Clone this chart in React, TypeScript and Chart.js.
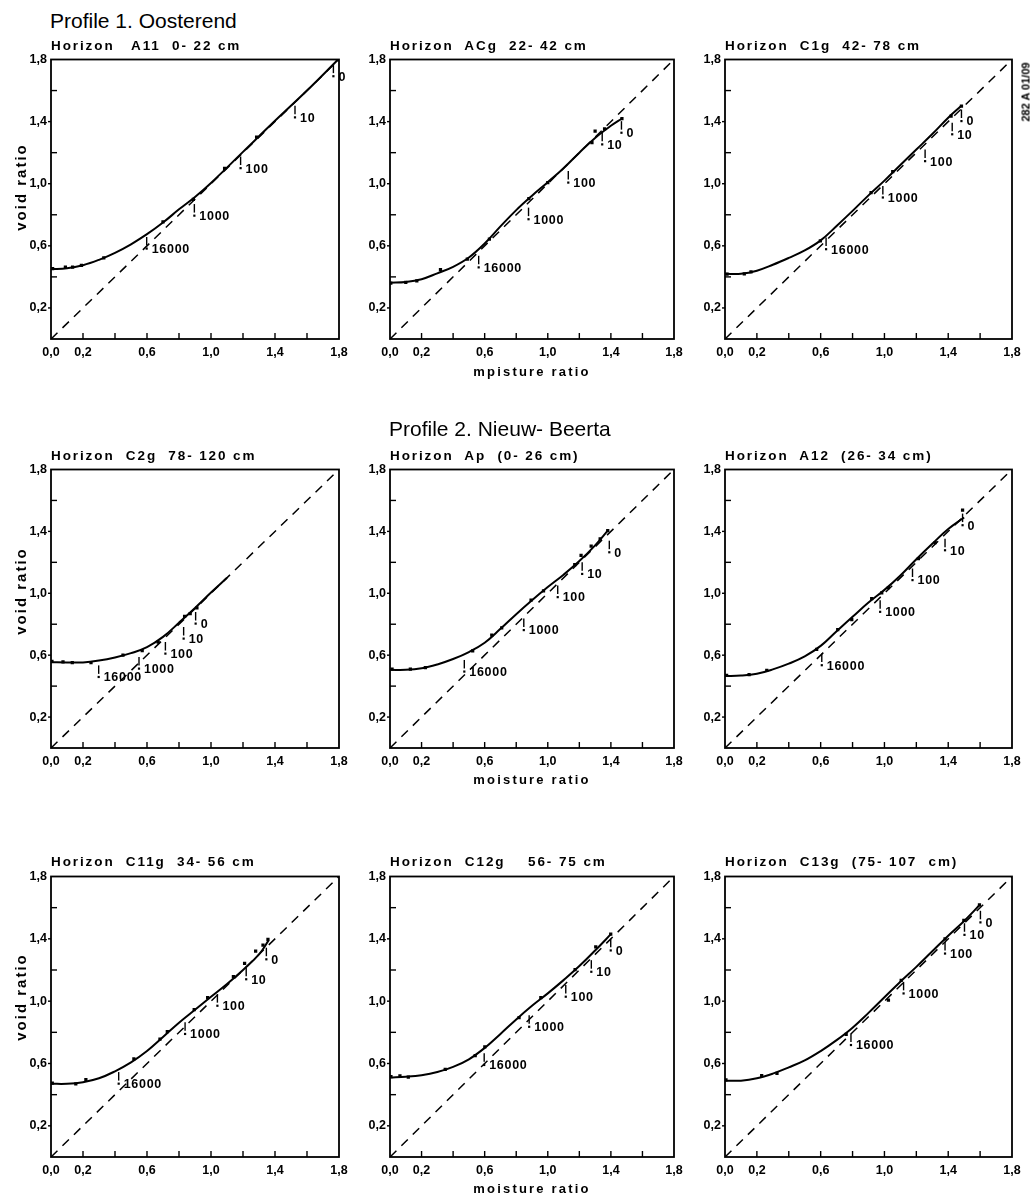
import React, { useEffect, useRef } from 'react';
import { Chart, registerables } from 'chart.js';

Chart.register(...registerables);

// ---------- data ----------
const AXIS_RANGE = [0, 1.8];
const TICK_VALUES = [0, 0.2, 0.4, 0.6, 0.8, 1.0, 1.2, 1.4, 1.6, 1.8];
const X_LABEL_VALUES = [0, 0.2, 0.6, 1.0, 1.4, 1.8];
const X_LABELS = ['0,0', '0,2', '0,6', '1,0', '1,4', '1,8'];
const Y_LABEL_VALUES = [0.2, 0.6, 1.0, 1.4, 1.8];
const Y_LABELS = ['0,2', '0,6', '1,0', '1,4', '1,8'];
const SUCTION_LABELS = ['16000', '1000', '100', '10', '0'];
const SATURATION_LINE = [[0, 0], [1.8, 1.8]];

// Profile 1. Oosterend
const a11Curve = [[0, 0.45], [0.1, 0.455], [0.2, 0.475], [0.3, 0.51], [0.4, 0.555], [0.5, 0.61], [0.6, 0.675], [0.7, 0.75], [0.8, 0.835], [0.9, 0.915], [1.0, 1.005], [1.2, 1.205], [1.4, 1.405], [1.6, 1.6], [1.79, 1.795]];
const a11Points = [[0.01, 0.453], [0.09, 0.463], [0.135, 0.463], [0.19, 0.474], [0.33, 0.522], [0.7, 0.754], [0.89, 0.899], [1.085, 1.099], [1.285, 1.3], [1.79, 1.8]];
const a11Marks = [[0.598, 0.657], [0.896, 0.869], [1.185, 1.175], [1.525, 1.502], [1.765, 1.767]];

const acgCurve = [[0, 0.362], [0.1, 0.367], [0.2, 0.385], [0.3, 0.423], [0.4, 0.465], [0.5, 0.525], [0.6, 0.615], [0.7, 0.725], [0.8, 0.83], [0.9, 0.923], [1.0, 1.01], [1.1, 1.1], [1.2, 1.2], [1.3, 1.295], [1.4, 1.373], [1.47, 1.42]];
const acgPoints = [[0.005, 0.36], [0.1, 0.364], [0.17, 0.375], [0.32, 0.446], [0.49, 0.514], [0.63, 0.643], [0.88, 0.904], [1.0, 1.007], [1.28, 1.264], [1.3, 1.339], [1.36, 1.354], [1.47, 1.42]];
const acgMarks = [[0.562, 0.536], [0.878, 0.846], [1.13, 1.082], [1.345, 1.328], [1.467, 1.403]];

const c1gCurve = [[0, 0.42], [0.1, 0.42], [0.2, 0.44], [0.3, 0.478], [0.4, 0.522], [0.5, 0.57], [0.6, 0.635], [0.7, 0.728], [0.8, 0.825], [0.9, 0.925], [1.0, 1.02], [1.1, 1.12], [1.2, 1.22], [1.3, 1.32], [1.4, 1.425], [1.48, 1.5]];
const c1gPoints = [[0.013, 0.418], [0.121, 0.42], [0.163, 0.433], [0.598, 0.632], [0.916, 0.943], [1.052, 1.078], [1.418, 1.436], [1.483, 1.5]];
const c1gMarks = [[0.634, 0.653], [0.99, 0.986], [1.255, 1.22], [1.425, 1.393], [1.483, 1.478]];

const c2gCurve = [[0, 0.555], [0.1, 0.553], [0.2, 0.553], [0.3, 0.565], [0.4, 0.585], [0.5, 0.613], [0.6, 0.652], [0.7, 0.718], [0.8, 0.81], [0.9, 0.905], [1.0, 1.005], [1.1, 1.1]];
const c2gPoints = [[0.006, 0.56], [0.075, 0.556], [0.133, 0.552], [0.25, 0.552], [0.45, 0.6], [0.57, 0.63], [0.67, 0.685], [0.835, 0.851], [0.87, 0.868], [0.912, 0.905]];
const c2gMarks = [[0.298, 0.534], [0.55, 0.588], [0.715, 0.685], [0.829, 0.782], [0.904, 0.879]];

// Profile 2. Nieuw- Beerta
const apCurve = [[0, 0.505], [0.1, 0.505], [0.2, 0.515], [0.3, 0.54], [0.4, 0.575], [0.5, 0.62], [0.6, 0.68], [0.7, 0.77], [0.8, 0.865], [0.9, 0.955], [1.0, 1.04], [1.1, 1.12], [1.2, 1.208], [1.3, 1.31], [1.38, 1.405]];
const apPoints = [[0.013, 0.509], [0.129, 0.509], [0.224, 0.519], [0.524, 0.627], [0.645, 0.73], [0.708, 0.777], [0.894, 0.955], [0.973, 1.015], [1.171, 1.185], [1.211, 1.245], [1.275, 1.305], [1.332, 1.352], [1.38, 1.405]];
const apMarks = [[0.471, 0.569], [0.848, 0.837], [1.063, 1.05], [1.218, 1.2], [1.39, 1.34]];

const a12Curve = [[0, 0.465], [0.1, 0.468], [0.2, 0.48], [0.3, 0.508], [0.4, 0.545], [0.5, 0.592], [0.6, 0.66], [0.7, 0.755], [0.8, 0.848], [0.9, 0.94], [1.0, 1.022], [1.1, 1.115], [1.2, 1.22], [1.3, 1.32], [1.4, 1.415], [1.5, 1.49]];
const a12Points = [[0.01, 0.47], [0.151, 0.474], [0.262, 0.502], [0.575, 0.638], [0.707, 0.765], [0.795, 0.83], [0.92, 0.966], [0.983, 1.002], [1.025, 1.037], [1.213, 1.224], [1.318, 1.328], [1.49, 1.537]];
const a12Marks = [[0.607, 0.61], [0.973, 0.955], [1.176, 1.16], [1.38, 1.353], [1.49, 1.515]];

const c11gCurve = [[0, 0.47], [0.1, 0.47], [0.2, 0.48], [0.3, 0.505], [0.4, 0.55], [0.5, 0.607], [0.6, 0.68], [0.7, 0.77], [0.8, 0.862], [0.9, 0.945], [1.0, 1.028], [1.1, 1.11], [1.2, 1.2], [1.3, 1.3], [1.36, 1.39]];
const c11gPoints = [[0.008, 0.474], [0.155, 0.47], [0.218, 0.496], [0.518, 0.63], [0.681, 0.757], [0.727, 0.804], [0.895, 0.945], [0.979, 1.023], [1.14, 1.157], [1.21, 1.243], [1.279, 1.321], [1.325, 1.36], [1.356, 1.396]];
const c11gMarks = [[0.423, 0.545], [0.838, 0.864], [1.04, 1.045], [1.22, 1.215], [1.346, 1.343]];

const c12gCurve = [[0, 0.51], [0.1, 0.515], [0.2, 0.525], [0.3, 0.545], [0.4, 0.578], [0.5, 0.627], [0.6, 0.7], [0.7, 0.79], [0.8, 0.883], [0.9, 0.97], [1.0, 1.05], [1.1, 1.135], [1.2, 1.225], [1.3, 1.325], [1.4, 1.43]];
const c12gPoints = [[0.006, 0.515], [0.063, 0.521], [0.116, 0.513], [0.35, 0.562], [0.54, 0.65], [0.601, 0.707], [0.818, 0.895], [0.956, 1.023], [1.173, 1.203], [1.304, 1.348], [1.399, 1.43]];
const c12gMarks = [[0.597, 0.665], [0.882, 0.91], [1.114, 1.103], [1.276, 1.263], [1.399, 1.4]];

const c13gCurve = [[0, 0.49], [0.1, 0.49], [0.2, 0.505], [0.3, 0.535], [0.4, 0.575], [0.5, 0.62], [0.6, 0.68], [0.7, 0.75], [0.8, 0.83], [0.9, 0.925], [1.0, 1.025], [1.1, 1.125], [1.2, 1.22], [1.3, 1.32], [1.4, 1.42], [1.5, 1.515], [1.6, 1.62]];
const c13gPoints = [[0.006, 0.495], [0.23, 0.522], [0.326, 0.537], [0.76, 0.787], [1.025, 1.006], [1.105, 1.134], [1.38, 1.4], [1.498, 1.518], [1.596, 1.618]];
const c13gMarks = [[0.79, 0.793], [1.12, 1.124], [1.38, 1.38], [1.502, 1.5], [1.602, 1.58]];

const PANEL_TITLES = [
  'Horizon   A11  0- 22 cm',
  'Horizon  ACg  22- 42 cm',
  'Horizon  C1g  42- 78 cm',
  'Horizon  C2g  78- 120 cm',
  'Horizon  Ap  (0- 26 cm)',
  'Horizon  A12  (26- 34 cm)',
  'Horizon  C11g  34- 56 cm',
  'Horizon  C12g    56- 75 cm',
  'Horizon  C13g  (75- 107  cm)',
];
const PANEL_CURVES = [a11Curve, acgCurve, c1gCurve, c2gCurve, apCurve, a12Curve, c11gCurve, c12gCurve, c13gCurve];
const PANEL_POINTS = [a11Points, acgPoints, c1gPoints, c2gPoints, apPoints, a12Points, c11gPoints, c12gPoints, c13gPoints];
const PANEL_MARKS = [a11Marks, acgMarks, c1gMarks, c2gMarks, apMarks, a12Marks, c11gMarks, c12gMarks, c13gMarks];

// ---------- layout / style ----------
const FONT = '"Liberation Sans", Arial, Helvetica, sans-serif';
const COLS = [{ left: 51, w: 288 }, { left: 390, w: 284 }, { left: 725, w: 287 }];
const ROWS = [{ top: 58, h: 281 }, { top: 468, h: 280 }, { top: 875, h: 282 }];
const YW = 40;
const PT = 10;
const PR = 16;
const XH = 28;

const toXY = (arr: number[][]) => arr.map(([x, y]) => ({ x, y }));
const near = (list: number[], v: number) => list.findIndex((t) => Math.abs(t - v) < 1e-6);

const framePlugin = {
  id: 'frame',
  afterDatasetsDraw(chart: any) {
    const { ctx, chartArea, scales } = chart;
    const { left, top, right, bottom } = chartArea;
    ctx.save();
    ctx.strokeStyle = '#000';
    ctx.lineWidth = 1.8;
    ctx.strokeRect(left, top, right - left, bottom - top);
    ctx.lineWidth = 1.4;
    TICK_VALUES.forEach((v) => {
      if (v <= AXIS_RANGE[0] || v >= AXIS_RANGE[1]) return;
      const px = scales.x.getPixelForValue(v);
      ctx.beginPath();
      ctx.moveTo(px, bottom);
      ctx.lineTo(px, bottom - 6);
      ctx.stroke();
      const py = scales.y.getPixelForValue(v);
      ctx.beginPath();
      if (near(Y_LABEL_VALUES, v) >= 0) {
        ctx.moveTo(left - 3, py);
        ctx.lineTo(left, py);
      } else {
        ctx.moveTo(left, py);
        ctx.lineTo(left + 6, py);
      }
      ctx.stroke();
    });
    ctx.restore();
  },
};

const makeMarkPlugin = (marks: number[][]) => ({
  id: 'suctionMarks',
  afterDatasetsDraw(chart: any) {
    const { ctx, scales } = chart;
    ctx.save();
    ctx.fillStyle = '#000';
    ctx.strokeStyle = '#000';
    ctx.lineWidth = 1.4;
    ctx.font = `bold 12.5px ${FONT}`;
    (ctx as any).letterSpacing = '0.7px';
    ctx.textBaseline = 'middle';
    ctx.textAlign = 'left';
    marks.forEach(([mx, my], i) => {
      const px = scales.x.getPixelForValue(mx);
      const py = scales.y.getPixelForValue(my);
      ctx.beginPath();
      ctx.moveTo(px, py);
      ctx.lineTo(px, py + 8.5);
      ctx.stroke();
      ctx.fillRect(px - 1.1, py + 10.5, 2.2, 2.2);
      ctx.fillText(SUCTION_LABELS[i], px + 5, py + 12.5);
    });
    ctx.restore();
  },
});

function Panel({ index }: { index: number }) {
  const ref = useRef<HTMLCanvasElement | null>(null);
  const col = COLS[index % 3];
  const row = ROWS[Math.floor(index / 3)];
  const width = col.w + YW + PR;
  const height = row.h + PT + XH;

  useEffect(() => {
    if (!ref.current) return;
    const tickFont = { family: FONT, size: 12.5, weight: 'bold' as const };
    const chart = new Chart(ref.current, {
      type: 'scatter',
      data: {
        datasets: [
          {
            data: toXY(SATURATION_LINE),
            showLine: true,
            borderColor: '#000',
            borderWidth: 1.5,
            borderDash: [9, 7],
            pointRadius: 0,
          },
          {
            data: toXY(PANEL_CURVES[index]),
            showLine: true,
            borderColor: '#000',
            borderWidth: 2,
            pointRadius: 0,
            tension: 0.4,
          },
          {
            data: toXY(PANEL_POINTS[index]),
            showLine: false,
            pointStyle: 'rect',
            pointRadius: 2.3,
            backgroundColor: '#000',
            borderColor: '#000',
            borderWidth: 0,
          },
        ] as any,
      },
      options: {
        animation: false,
        responsive: false,
        maintainAspectRatio: false,
        events: [],
        layout: { padding: { top: PT, right: PR, left: 0, bottom: 0 } },
        plugins: { legend: { display: false }, tooltip: { enabled: false }, title: { display: false } },
        scales: {
          x: {
            type: 'linear',
            min: AXIS_RANGE[0],
            max: AXIS_RANGE[1],
            afterFit: (s: any) => { s.height = XH; },
            afterBuildTicks: (s: any) => { s.ticks = TICK_VALUES.map((value) => ({ value })); },
            ticks: {
              autoSkip: false,
              maxRotation: 0,
              padding: 6,
              color: '#000',
              font: tickFont,
              callback: (v: any) => { const i = near(X_LABEL_VALUES, Number(v)); return i >= 0 ? X_LABELS[i] : ''; },
            },
            grid: { display: false, drawTicks: false },
            border: { display: false },
          },
          y: {
            type: 'linear',
            min: AXIS_RANGE[0],
            max: AXIS_RANGE[1],
            afterFit: (s: any) => { s.width = YW; },
            afterBuildTicks: (s: any) => { s.ticks = TICK_VALUES.map((value) => ({ value })); },
            ticks: {
              autoSkip: false,
              padding: 4,
              color: '#000',
              font: tickFont,
              callback: (v: any) => { const i = near(Y_LABEL_VALUES, Number(v)); return i >= 0 ? Y_LABELS[i] : ''; },
            },
            grid: { display: false, drawTicks: false },
            border: { display: false },
          },
        },
      } as any,
      plugins: [framePlugin, makeMarkPlugin(PANEL_MARKS[index])],
    });
    return () => chart.destroy();
  }, [index]);

  return (
    <canvas
      ref={ref}
      width={width}
      height={height}
      style={{ position: 'absolute', left: col.left - YW, top: row.top - PT, width, height }}
    />
  );
}

const textBase: React.CSSProperties = {
  position: 'absolute',
  fontFamily: FONT,
  color: '#000',
  whiteSpace: 'pre',
  lineHeight: 1,
};

const TITLE_TOPS = [39, 449, 855];
const VOID_CENTERS = [187, 591, 997];
const MOISTURE_LABELS = [
  { text: 'mpisture ratio', y: 371 },
  { text: 'moisture ratio', y: 779 },
  { text: 'moisture ratio', y: 1188 },
];

export default function App() {
  return (
    <div style={{ position: 'absolute', left: 0, top: 0, width: 1032, height: 1198, background: '#fff', overflow: 'hidden' }}>
      {PANEL_TITLES.map((_, i) => <Panel key={i} index={i} />)}

      <div style={{ ...textBase, left: 50, top: 10, fontSize: 21 }}>Profile 1. Oosterend</div>
      <div style={{ ...textBase, left: 389, top: 418, fontSize: 21 }}>Profile 2. Nieuw- Beerta</div>

      {PANEL_TITLES.map((t, i) => (
        <div
          key={'t' + i}
          style={{ ...textBase, left: COLS[i % 3].left, top: TITLE_TOPS[Math.floor(i / 3)], fontSize: 13.5, fontWeight: 'bold', letterSpacing: '1.9px' }}
        >
          {t}
        </div>
      ))}

      {VOID_CENTERS.map((cy, i) => (
        <div
          key={'v' + i}
          style={{ ...textBase, left: 20, top: cy, fontSize: 15, fontWeight: 'bold', letterSpacing: '2px', transform: 'translate(-50%, -50%) rotate(-90deg)' }}
        >
          void ratio
        </div>
      ))}

      {MOISTURE_LABELS.map((m, i) => (
        <div
          key={'m' + i}
          style={{ ...textBase, left: COLS[1].left + COLS[1].w / 2, top: m.y, fontSize: 13, fontWeight: 'bold', letterSpacing: '2.2px', transform: 'translate(-50%, -50%)' }}
        >
          {m.text}
        </div>
      ))}

      <div style={{ ...textBase, left: 1026, top: 92, fontSize: 11, fontWeight: 'bold', transform: 'translate(-50%, -50%) rotate(-90deg)' }}>
        282 A 01/09
      </div>
    </div>
  );
}
